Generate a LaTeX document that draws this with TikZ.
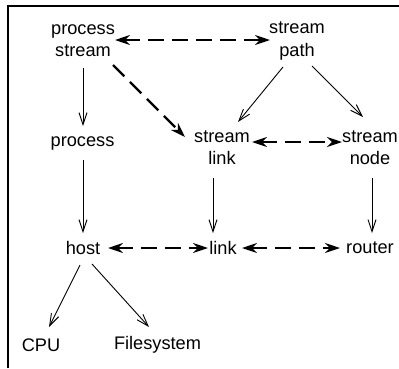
\documentclass[tikz,border=0pt]{standalone}
\usepackage{fontspec}
\setmainfont{Liberation Sans}
\usetikzlibrary{arrows.meta,calc}
\tikzset{dhead/.tip={Stealth[length=15pt,width=10pt,inset=5pt]}}
\begin{document}
\begin{tikzpicture}[x=1pt,y=1pt,
  lbl/.style={inner sep=0pt,align=center,font=\fontsize{18.2}{22}\selectfont},
  solidarr/.style={line width=0.9pt,-{Straight Barb[length=12pt,width=8pt,line width=0.9pt]}},
  dasharr/.style={line width=2.3pt,dash pattern=on 16pt off 8pt,dhead-dhead},
  dashone/.style={line width=2.3pt,dash pattern=on 16pt off 8pt,-dhead}]
\useasboundingbox (0,0) rectangle (399,-368);
% frame: only the top and left edges
\draw[line width=2pt] (8.3,-368) -- (8.3,-5.8) -- (399,-5.8);

\node[lbl] (ps)     at (83,-41)    {process\\stream};
\node[lbl] (sp)     at (297,-41)   {stream\\path};
\node[lbl] (pr)     at (82.5,-143) {process};
\node[lbl] (sl)     at (222,-148)  {stream\\link};
\node[lbl] (sn)     at (370,-148)  {stream\\node};
\node[lbl] (host)   at (83,-248)   {host};
\node[lbl] (link)   at (223,-248)  {link};
\node[lbl] (router) at (370,-248)  {router};
\node[lbl] (cpu)    at (41,-345)   {CPU};
\node[lbl] (fs)     at (157.5,-345){Filesystem};

% dashed two-way links
\draw[dasharr] ($(ps)+(32,1)$) -- ($(sp)+(-27,1)$);
\draw[dasharr] ($(sl)+(30,6)$) -- ($(sn)+(-28,6)$);
\draw[dasharr] ($(host)+(25,0)$) -- ($(link)+(-15,0)$);
\draw[dasharr] ($(link)+(19,0)$) -- ($(router)+(-30,0)$);
% dashed one-way link
\draw[dashone] ($(ps)+(30,-24)$) -- ($(sl)+(-37,11)$);

% plain arrows
\draw[solidarr] ($(ps)+(0,-27)$) -- ($(pr)+(0.5,17)$);
\draw[solidarr] ($(pr)+(0.5,-17)$) -- ($(host)+(0,15)$);
\draw[solidarr] ($(sp)+(-14,-26)$) -- ($(sl)+(16,26)$);
\draw[solidarr] ($(sp)+(15,-25)$) -- ($(sn)+(-7,31)$);
\draw[solidarr] ($(sl)+(-9,-30)$) -- ($(link)+(-10,15)$);
\draw[solidarr] ($(sn)+(2,-30)$) -- ($(router)+(2,15)$);
\draw[solidarr] ($(host)+(-3,-17)$) -- ($(cpu)+(8,18)$);
\draw[solidarr] ($(host)+(9,-16)$) -- ($(fs)+(-8.5,18)$);
\end{tikzpicture}
\end{document}
